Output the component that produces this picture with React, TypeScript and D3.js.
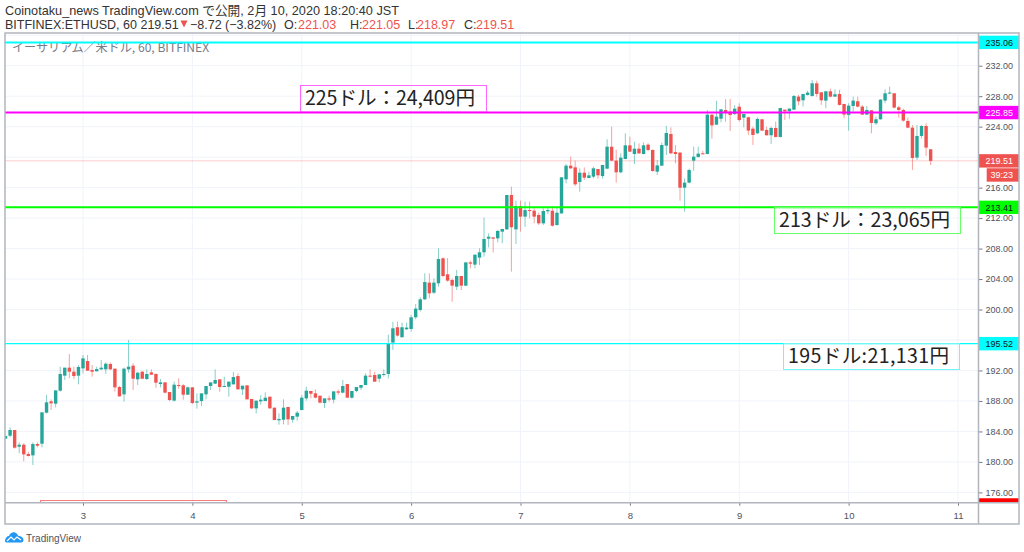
import * as d3 from "d3";
import { useEffect, useRef } from "react";

const opens = [
  183.05,183.44,184.19,182.00,182.26,181.04,180.86,182.35,182.39,186.46,
  187.95,187.64,189.35,191.32,192.37,191.84,191.32,192.28,193.24,192.06,
  191.89,192.15,192.15,192.85,192.24,189.83,188.87,192.15,192.63,190.84,
  191.84,190.88,191.75,191.54,190.22,190.44,189.17,188.04,190.09,190.05,
  188.82,189.79,187.78,187.99,188.87,189.96,190.27,190.84,189.87,189.87,
  190.18,191.27,189.52,190.05,188.26,187.03,187.95,187.99,188.56,187.12,
  185.46,185.54,187.21,185.54,185.94,186.81,188.34,189.31,189.00,188.69,
  187.73,188.34,188.17,189.26,189.09,190.22,188.43,189.31,189.74,190.09,
  191.32,191.41,190.92,191.41,191.54,195.66,197.67,196.36,197.41,197.45,
  198.98,199.94,201.34,203.53,202.21,203.44,206.72,204.62,203.88,203.00,
  204.40,203.13,206.19,205.89,206.81,207.51,209.30,209.47,209.34,210.22,
  210.52,215.03,210.52,213.59,212.19,213.06,212.97,212.41,211.31,212.89,
  212.97,211.09,212.62,217.09,218.88,218.66,216.74,217.96,217.26,217.44,
  218.44,217.52,218.49,221.37,219.54,218.01,219.76,221.55,220.41,221.11,
  220.41,221.64,220.94,218.09,218.88,221.51,223.04,220.67,220.59,215.99,
  216.65,219.54,220.02,220.50,220.41,225.57,224.26,225.05,226.19,225.97,
  225.66,226.62,225.18,225.23,223.74,223.13,224.97,223.57,222.87,223.83,
  222.65,226.23,226.02,226.23,227.94,227.46,228.16,228.03,229.69,228.51,
  227.42,228.64,227.94,228.29,226.98,225.54,226.72,227.33,226.63,225.58,
  226.15,224.44,224.97,227.42,228.38,228.38,226.54,226.19,224.75,223.87,
  219.94,222.78,224.09,221.03,
];
const highs = [
  183.5,184.54,184.19,182.57,182.44,181.34,182.57,182.57,186.51,188.78,
  188.21,189.39,192.5,192.37,194.16,192.5,192.72,194.03,194.03,192.72,
  192.5,193.37,193.07,193.07,192.24,189.96,192.37,195.99,192.94,191.84,
  191.93,192.15,192.15,191.62,190.88,190.44,189.17,190.53,190.97,190.22,
  189.87,189.79,189.0,189.0,189.96,190.44,192.15,190.84,191.19,190.53,
  191.8,191.62,190.0,190.05,188.26,188.04,188.78,189.13,188.56,187.12,
  186.37,188.21,187.21,186.03,186.68,188.78,189.87,189.31,189.52,188.69,
  188.34,188.69,189.26,189.52,190.75,190.22,189.31,189.83,190.09,191.62,
  192.15,191.84,191.49,192.15,196.7,198.41,198.41,198.28,198.28,199.29,
  200.73,201.61,204.75,204.75,204.09,208.03,206.85,206.76,204.09,205.19,
  204.4,206.19,206.41,207.2,208.03,212.06,210.0,209.47,210.44,210.57,
  215.03,216.12,214.29,214.29,214.16,214.16,213.28,212.71,213.28,213.41,
  213.59,213.28,217.35,219.1,220.06,219.54,218.53,218.66,218.09,218.75,
  218.44,218.97,222.34,224.0,220.94,220.5,223.12,222.69,222.03,221.81,
  221.94,221.81,221.02,219.62,221.9,224.09,223.91,221.59,220.67,217.22,
  218.5,221.37,221.37,220.81,226.19,225.66,227.41,226.27,227.63,227.63,
  226.84,227.06,225.66,225.32,224.0,225.23,224.97,224.0,224.0,224.66,
  226.45,226.23,226.37,228.16,228.16,228.29,228.73,230.13,230.04,228.51,
  228.64,228.99,228.9,228.82,226.98,227.07,227.94,227.94,226.85,226.72,
  226.15,225.32,227.59,228.9,229.25,228.38,226.72,226.37,225.19,224.22,
  224.22,224.22,224.44,221.05,
];
const lows = [
  183.0,183.23,181.74,181.13,180.08,180.69,179.6,181.91,181.91,186.37,
  186.81,187.16,189.22,190.75,190.97,190.88,190.18,191.62,191.97,191.19,
  191.89,192.06,191.54,192.06,189.22,188.56,187.91,191.71,189.44,190.09,
  190.88,190.75,191.41,189.74,189.79,189.0,187.99,187.95,189.61,188.17,
  188.78,187.6,186.99,187.34,188.21,189.44,190.22,189.22,189.87,188.56,
  190.18,189.52,188.78,188.21,186.94,186.37,187.51,187.99,186.99,185.5,
  184.89,184.93,184.84,185.15,185.41,186.81,188.04,188.34,188.34,187.69,
  187.07,187.91,187.69,188.78,189.0,188.39,188.3,189.13,189.44,190.09,
  191.1,190.53,190.44,191.19,190.97,194.69,196.44,196.36,197.32,197.1,
  198.72,199.72,201.25,201.47,202.04,203.0,204.23,203.66,201.03,202.56,
  202.56,203.09,205.41,205.41,205.84,206.94,208.16,207.51,208.82,208.69,
  210.44,204.97,208.6,210.22,210.87,211.97,211.31,211.09,211.09,212.54,
  210.87,211.0,212.54,216.56,218.44,216.21,215.47,217.0,217.22,217.22,
  217.18,217.18,218.4,219.45,216.65,217.88,219.71,220.67,219.1,220.41,
  220.37,220.76,218.09,217.66,218.84,220.28,220.41,219.19,214.29,212.84,
  216.56,218.22,219.93,220.37,220.37,222.42,224.22,224.57,224.65,223.43,
  225.53,224.65,223.91,222.91,221.6,223.04,223.39,222.82,221.73,222.56,
  222.56,224.88,225.01,226.19,226.85,226.63,228.07,227.94,227.94,226.85,
  226.41,227.85,227.94,226.76,225.1,223.48,225.97,226.54,225.54,225.54,
  223.13,224.22,224.92,227.07,228.29,226.41,225.19,224.66,223.79,218.32,
  219.63,222.47,220.16,218.97,
];
const closes = [
  183.4,184.19,181.87,182.26,180.99,180.78,182.35,182.13,186.51,187.82,
  187.69,189.39,191.54,192.37,191.84,191.27,192.46,193.59,191.97,191.84,
  192.19,192.37,192.89,192.15,189.79,188.61,192.24,192.5,190.92,191.71,
  190.92,191.54,191.45,190.4,190.44,189.09,188.12,190.14,189.96,188.82,
  189.79,187.73,187.95,189.0,189.96,190.44,190.75,189.83,189.96,190.53,
  191.14,189.52,190.0,188.21,187.03,188.04,188.17,188.43,187.03,185.5,
  185.63,187.12,185.59,186.03,186.46,188.43,189.35,188.95,188.43,187.78,
  188.34,188.17,189.26,189.09,189.96,188.43,189.31,189.83,190.09,191.32,
  191.19,190.53,191.49,191.54,195.6,197.54,196.58,197.67,197.63,198.98,
  200.12,201.34,203.61,202.13,203.53,206.63,204.4,203.79,203.13,204.4,
  203.13,206.19,206.02,207.2,207.51,209.26,209.56,209.3,210.31,210.57,
  215.03,210.79,213.59,212.19,213.06,212.93,212.19,211.31,212.93,213.06,
  211.0,212.71,217.35,218.88,218.53,216.43,217.96,217.31,217.61,218.53,
  217.61,218.97,221.37,219.54,218.01,219.93,221.55,220.72,221.11,220.5,
  221.55,220.94,218.18,218.92,221.59,223.17,220.5,220.41,215.99,216.65,
  218.31,220.06,220.46,220.37,225.57,224.17,225.31,226.27,225.84,225.53,
  226.36,224.87,225.66,223.48,222.91,225.01,223.48,222.87,223.83,222.65,
  226.45,226.02,226.37,228.03,227.33,228.29,228.47,229.69,228.29,227.46,
  228.64,227.94,228.25,226.85,225.58,226.76,227.42,226.63,225.58,226.19,
  224.49,224.97,227.55,228.38,228.47,226.5,226.19,224.79,223.87,219.89,
  222.78,224.09,221.25,219.51,
];

const priceTicks = [176, 180, 184, 188, 192, 196, 200, 204, 208, 212, 216, 220, 224, 228, 232, 236];
// these sit under a price tag, the tag covers them
const hiddenTicks = [196, 220, 236];
const dayTicks = [3, 4, 5, 6, 7, 8, 9, 10, 11];
const firstDay = 3 - 17 / 24;

// horizontal level lines with their axis tags
const levelPrices = [235.06, 225.85, 213.41, 195.52];
const levelColors = ["#00ffff", "#ff00ff", "#00ff00", "#00ffff"];
const levelInk = ["#131722", "#ffffff", "#131722", "#131722"];
const levelWidths = [2, 2, 2, 1.3];

const UP = "#26a69a";
const DOWN = "#ef5350";
const FONT = "'Liberation Sans','Noto Sans CJK JP',sans-serif";
const NOTE_FONT = "'Noto Sans CJK JP',sans-serif";

const paneL = 5;
const paneR = 978.5;
const paneT = 33;
const paneB = 502.7;
const frameR = 1019;
const frameB = 524;

export default function App() {
  const ref = useRef<SVGSVGElement | null>(null);
  useEffect(() => {
    if (!ref.current) return;
    const svg = d3.select(ref.current);
    svg.selectAll("*").remove();
    svg.style("font-family", FONT);

    const x = d3.scaleLinear().domain([3, 11]).range([83, 958]);
    const y = d3.scaleLinear().domain([176, 232]).range([492.4, 65.7]);
    const candles = opens.map((o, i) => ({
      t: firstDay + i / 24, o, h: highs[i], l: lows[i], c: closes[i],
    }));

    svg.append("clipPath").attr("id", "pane")
      .append("rect").attr("x", paneL).attr("y", paneT)
      .attr("width", paneR - paneL).attr("height", paneB - paneT);
    svg.append("clipPath").attr("id", "axis")
      .append("rect").attr("x", paneR).attr("y", paneT)
      .attr("width", frameR - paneR).attr("height", paneB - paneT);

    const pane = svg.append("g").attr("clip-path", "url(#pane)");

    // grid
    pane.append("g").selectAll("line").data(priceTicks).enter().append("line")
      .attr("x1", paneL).attr("x2", paneR)
      .attr("y1", (d) => y(d)).attr("y2", (d) => y(d))
      .attr("stroke", "#f0f3fa");
    pane.append("g").selectAll("line").data(dayTicks).enter().append("line")
      .attr("y1", paneT).attr("y2", paneB)
      .attr("x1", (d) => x(d)).attr("x2", (d) => x(d))
      .attr("stroke", "#f0f3fa");

    // red box cut off by the bottom of the pane
    pane.append("rect").attr("x", 40.5).attr("y", 500.5).attr("width", 186).attr("height", 12)
      .attr("fill", "none").attr("stroke", "#f77c7c");

    // last price line
    const last = closes[closes.length - 1];
    pane.append("line").attr("x1", paneL).attr("x2", paneR)
      .attr("y1", y(last)).attr("y2", y(last))
      .attr("stroke", DOWN).attr("stroke-opacity", 0.3);

    // candles
    pane.append("g").selectAll("line").data(candles).enter().append("line")
      .attr("x1", (d) => x(d.t)).attr("x2", (d) => x(d.t))
      .attr("y1", (d) => y(d.h)).attr("y2", (d) => y(d.l))
      .attr("stroke", (d) => (d.c >= d.o ? UP : DOWN))
      .attr("stroke-opacity", 0.55);
    pane.append("g").selectAll("rect").data(candles).enter().append("rect")
      .attr("x", (d) => x(d.t) - 1.7).attr("width", 3.4)
      .attr("y", (d) => y(Math.max(d.o, d.c)))
      .attr("height", (d) => Math.max(1, Math.abs(y(d.o) - y(d.c))))
      .attr("fill", (d) => (d.c >= d.o ? UP : DOWN));

    // watermark title
    pane.append("text").attr("x", 12).attr("y", 52).attr("font-size", 12.1).attr("fill", "#787b86")
      .attr("font-family", NOTE_FONT)
      .text("イーサリアム／米ドル, 60, BITFINEX");

    // level lines
    levelPrices.forEach((p, i) => {
      pane.append("line").attr("x1", paneL).attr("x2", paneR)
        .attr("y1", y(p)).attr("y2", y(p))
        .attr("stroke", levelColors[i]).attr("stroke-width", levelWidths[i]);
    });

    // text boxes
    const notes = [
      { text: "225ドル：24,409円", x0: 300.5, x1: 486.5, y0: 85.5, y1: 111.5, stroke: "#ff66ff", tx: 305, w: 170 },
      { text: "213ドル：23,065円", x0: 774.5, x1: 960.5, y0: 207.5, y1: 233.5, stroke: "#66ff66", tx: 779, w: 171 },
      { text: "195ドル:21,131円", x0: 783.5, x1: 959.5, y0: 343.5, y1: 369.5, stroke: "#70f5f5", tx: 788, w: 161 },
    ];
    notes.forEach((n) => {
      pane.append("rect").attr("x", n.x0).attr("y", n.y0)
        .attr("width", n.x1 - n.x0).attr("height", n.y1 - n.y0)
        .attr("fill", "none").attr("stroke", n.stroke);
      pane.append("text").attr("x", n.tx).attr("y", n.y1 - 7).attr("font-size", 19.6).attr("fill", "#222")
        .attr("font-family", NOTE_FONT)
        .attr("textLength", n.w)
        .text(n.text);
    });

    // price axis
    const axisG = svg.append("g").attr("clip-path", "url(#axis)");
    const yAxis = axisG.append("g").attr("transform", `translate(${paneR},0)`)
      .call(d3.axisRight(y)
        .tickValues(priceTicks.filter((t) => !hiddenTicks.includes(t)))
        .tickFormat(d3.format(".2f")).tickSize(4).tickPadding(3));
    yAxis.select(".domain").remove();
    yAxis.selectAll("line").attr("stroke", "#787b86");
    yAxis.selectAll("text").attr("fill", "#50535e").attr("font-size", 9).attr("font-family", FONT);

    // tags on the price axis
    const tag = (p: number, fill: string, ink: string, label: string) => {
      axisG.append("rect").attr("x", paneR).attr("y", y(p) - 6.7).attr("width", frameR - paneR).attr("height", 13.4).attr("fill", fill);
      axisG.append("text").attr("x", paneR + 7).attr("y", y(p) + 3.2).attr("font-size", 9).attr("fill", ink).text(label);
    };
    tag(174.35, "#ff0000", "#ffffff", "174.35");
    levelPrices.forEach((p, i) => tag(p, levelColors[i], levelInk[i], d3.format(".2f")(p)));
    tag(last, DOWN, "#ffffff", d3.format(".2f")(last));
    axisG.append("rect").attr("x", 986.7).attr("y", y(last) + 7.4).attr("width", frameR - 986.7).attr("height", 13.4).attr("fill", DOWN);
    axisG.append("text").attr("x", 990.5).attr("y", y(last) + 17.3).attr("font-size", 9).attr("fill", "#fff").text("39:23");

    // day axis
    const xAxis = svg.append("g").attr("transform", `translate(0,${paneB})`)
      .call(d3.axisBottom(x).tickValues(dayTicks).tickFormat(d3.format("d")).tickSize(3).tickPadding(7));
    xAxis.select(".domain").remove();
    xAxis.selectAll("line").attr("stroke", "#787b86");
    xAxis.selectAll("text").attr("fill", "#50535e").attr("font-size", 9.5).attr("font-family", FONT);

    // frame
    const frame = svg.append("g").attr("stroke", "#b2b5be").attr("fill", "none");
    frame.append("rect").attr("x", paneL).attr("y", paneT).attr("width", frameR - paneL).attr("height", frameB - paneT).attr("stroke-width", 1.5);
    frame.append("line").attr("x1", paneL).attr("x2", frameR).attr("y1", paneB).attr("y2", paneB).attr("stroke-width", 1.5);
    frame.append("line").attr("x1", paneR).attr("x2", paneR).attr("y1", paneT).attr("y2", frameB).attr("stroke-width", 1.5);

    // header
    svg.append("text").attr("x", 5).attr("y", 15).attr("font-size", 12.7).attr("fill", "#333")
      .text("Coinotaku_news TradingView.com で公開, 2月 10, 2020 18:20:40 JST");
    const head = (tx: number, s: string, fill: string) =>
      svg.append("text").attr("x", tx).attr("y", 28.5).attr("font-size", 12.5).attr("fill", fill).text(s);
    head(5, "BITFINEX:ETHUSD, 60 219.51", "#333");
    svg.append("path").attr("d", "M180.500,20.500h7l-3.500,7z").attr("fill", DOWN);
    head(190, "−8.72 (−3.82%)", "#333");
    head(284, "O:", "#333");
    head(298, "221.03", DOWN);
    head(350, "H:", "#333");
    head(362, "221.05", DOWN);
    head(408, "L:", "#333");
    head(417, "218.97", DOWN);
    head(464, "C:", "#333");
    head(476, "219.51", DOWN);

    // footer logo
    const logo = svg.append("g");
    logo.append("path")
      .attr("d", "M5,541c0-3,2-5,4-5c1-3,4-4.500,6-3.500c2,1,3,2.500,3.500,3.500c3,0,5,2,5,4c0,1.500-1,2.500-2,2.500h-14c-1.500,0-2.500-0.500-2.500-1.500z")
      .attr("fill", "#2196f3");
    logo.append("path").attr("d", "M7,541l4-4l3,3l3-3l4,3").attr("fill", "none").attr("stroke", "#fff").attr("stroke-width", 1.2);
    svg.append("text").attr("x", 26).attr("y", 541.5).attr("font-size", 10).attr("fill", "#50535e").text("TradingView");
  }, []);
  return (
    <svg ref={ref} width={1024} height={552} viewBox="0 0 1024 552"
      style={{ position: "fixed", left: 0, top: 0, background: "#fff" }} />
  );
}
